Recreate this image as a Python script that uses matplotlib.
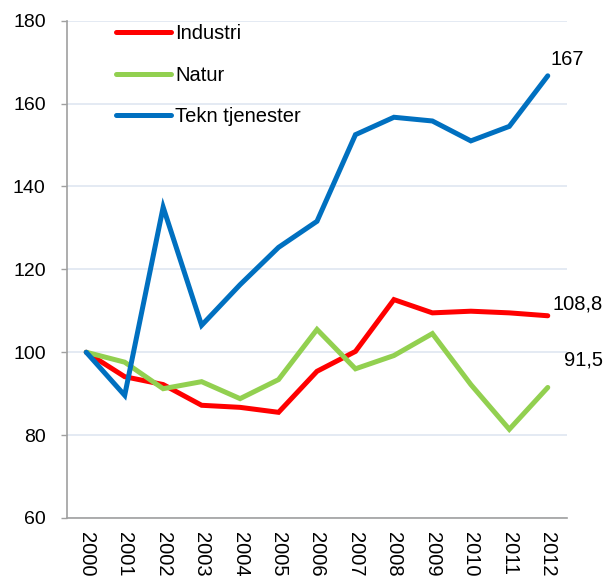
import matplotlib
matplotlib.use("Agg")
import matplotlib.pyplot as plt

years = ["2000", "2001", "2002", "2003", "2004", "2005", "2006",
         "2007", "2008", "2009", "2010", "2011", "2012"]
industri = [100, 94.1, 92.2, 87.2, 86.7, 85.5, 95.4, 100.2, 112.7, 109.5, 109.9, 109.5, 108.8]
natur = [100, 97.6, 91.2, 92.9, 88.8, 93.4, 105.5, 96.0, 99.2, 104.5, 92.2, 81.4, 91.5]
tekn = [100, 89.6, 135.0, 106.5, 116.3, 125.3, 131.6, 152.5, 156.7, 155.8, 151.0, 154.5, 166.7]
series_names = ["Industri", "Natur", "Tekn tjenester"]
end_labels = ["108,8", "91,5", "167"]
yticks = [60, 80, 100, 120, 140, 160, 180]

plt.rcParams['font.family'] = ['Liberation Sans', 'DejaVu Sans']

fig = plt.figure(figsize=(6.15, 5.78), dpi=100)
ax = fig.add_axes([67/615, 1 - 518/578, 500/615, (518 - 20.7)/578])

colors = ["#ff0000", "#92d050", "#0070c0"]
xs = list(range(len(years)))
lw = 3.6
for vals, name, c in zip([industri, natur, tekn], series_names, colors):
    ax.plot(xs, vals, color=c, lw=lw, label=name, solid_capstyle='round',
            solid_joinstyle='miter', zorder=3)

ax.set_xlim(-0.5, len(years) - 0.5)
ax.set_ylim(60, 180)
ax.set_yticks(yticks)
ax.set_yticklabels([str(v) for v in yticks], fontsize=14)
ax.set_xticks(xs)
ax.set_xticklabels(years, rotation=-90, fontsize=14.5, va='top', ha='center')

ax.grid(axis='y', color='#dfe6f1', lw=1.2, zorder=0)
ax.set_axisbelow(True)
for s in ['top', 'right']:
    ax.spines[s].set_visible(False)
for s in ['left', 'bottom']:
    ax.spines[s].set_color('#a0a0a0')
    ax.spines[s].set_linewidth(1.2)
ax.tick_params(axis='y', length=4.3, width=1.0, color='#a0a0a0', pad=11)
ax.tick_params(axis='x', length=0, pad=10)

# end labels
offsets = [(5, 12), (16, 27), (3, 16)]
for vals, lab, (dx, dy) in zip([industri, natur, tekn], end_labels, offsets):
    ax.annotate(lab, xy=(xs[-1], vals[-1]), xytext=(dx * 0.72, dy * 0.72),
                textcoords='offset points', ha='left', va='center', fontsize=14.5)

leg = ax.legend(loc='upper left', bbox_to_anchor=(116/615, 1 - 24/578),
                bbox_transform=fig.transFigure, frameon=False, fontsize=14.5,
                handlelength=2.75, handletextpad=0.2, labelspacing=1.12,
                borderpad=0, borderaxespad=0)

fig.savefig("out.png", dpi=100)
